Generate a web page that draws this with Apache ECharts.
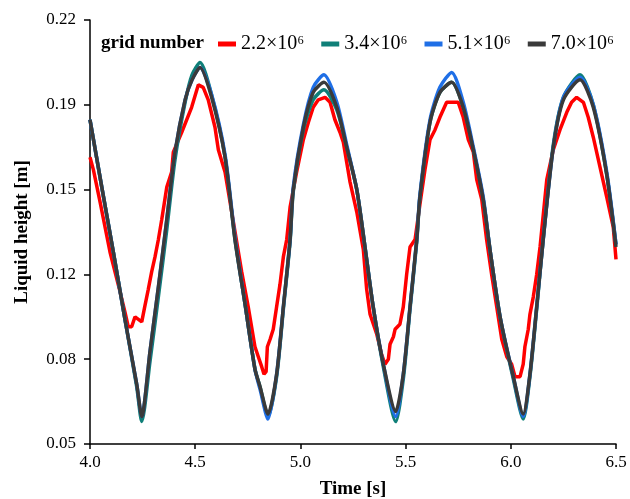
<!DOCTYPE html>
<html>
<head>
<meta charset="utf-8">
<script src="https://cdn.jsdelivr.net/npm/echarts@6/dist/echarts.min.js"></script>
<style>
html,body{margin:0;padding:0;background:#fff;}
#chart{width:630px;height:499px;}
</style>
</head>
<body>
<div id="chart"></div>
<script>
// Shared time grid for the 3.4, 5.1 and 7.0 million-cell curves
var timeFine = [4.000,4.056,4.111,4.166,4.222,4.246,4.285,4.325,4.365,4.404,4.452,4.485,4.523,4.578,4.642,4.689,4.737,4.784,4.808,4.846,4.887,4.919,4.951,4.966,5.014,5.061,5.112,5.173,5.220,5.268,5.307,5.346,5.394,5.453,5.489,5.521,5.553,5.568,5.616,5.663,5.719,5.774,5.822,5.869,5.901,5.949,6.012,6.059,6.091,6.123,6.154,6.202,6.250,6.329,6.392,6.456,6.500];
var height70 = [0.180,0.153,0.127,0.100,0.074,0.061,0.087,0.113,0.140,0.167,0.188,0.196,0.201,0.189,0.165,0.132,0.106,0.080,0.073,0.062,0.078,0.105,0.132,0.152,0.177,0.191,0.195,0.185,0.169,0.152,0.129,0.105,0.082,0.063,0.078,0.105,0.132,0.149,0.179,0.191,0.195,0.185,0.168,0.148,0.128,0.101,0.077,0.062,0.078,0.105,0.132,0.169,0.188,0.196,0.185,0.158,0.129];
var height34 = [0.180,0.153,0.127,0.100,0.073,0.059,0.083,0.109,0.136,0.164,0.187,0.198,0.203,0.190,0.165,0.132,0.106,0.080,0.073,0.061,0.077,0.104,0.131,0.151,0.176,0.188,0.192,0.184,0.169,0.152,0.129,0.105,0.081,0.059,0.076,0.104,0.131,0.149,0.179,0.191,0.195,0.185,0.168,0.148,0.128,0.101,0.076,0.060,0.077,0.104,0.132,0.170,0.189,0.198,0.186,0.158,0.130];
var height51 = [0.180,0.153,0.127,0.100,0.074,0.061,0.087,0.113,0.140,0.167,0.188,0.196,0.201,0.190,0.166,0.133,0.106,0.080,0.072,0.060,0.078,0.105,0.132,0.153,0.178,0.193,0.198,0.187,0.170,0.152,0.129,0.105,0.082,0.061,0.078,0.105,0.132,0.150,0.180,0.193,0.199,0.187,0.169,0.149,0.128,0.101,0.077,0.061,0.078,0.105,0.132,0.169,0.189,0.197,0.186,0.159,0.130];
// Coarse-grid (2.2 million cells) curve
var time22 = [4.000,4.016,4.048,4.095,4.143,4.166,4.182,4.198,4.214,4.246,4.260,4.277,4.293,4.309,4.325,4.341,4.365,4.388,4.396,4.436,4.483,4.515,4.538,4.562,4.594,4.610,4.642,4.721,4.752,4.784,4.800,4.816,4.827,4.837,4.843,4.856,4.871,4.887,4.903,4.919,4.935,4.951,4.982,5.014,5.038,5.061,5.085,5.117,5.141,5.164,5.188,5.204,5.220,5.236,5.268,5.299,5.315,5.331,5.363,5.386,5.402,5.418,5.426,5.442,5.450,5.473,5.489,5.505,5.521,5.545,5.568,5.592,5.616,5.640,5.663,5.695,5.750,5.774,5.798,5.822,5.838,5.862,5.885,5.909,5.933,5.957,5.981,6.004,6.020,6.044,6.059,6.067,6.083,6.091,6.107,6.123,6.139,6.171,6.202,6.234,6.266,6.289,6.313,6.345,6.368,6.392,6.424,6.456,6.487,6.500];
var height22 = [0.165,0.160,0.147,0.127,0.111,0.103,0.097,0.097,0.101,0.099,0.105,0.112,0.119,0.125,0.132,0.140,0.153,0.159,0.167,0.175,0.185,0.194,0.193,0.188,0.177,0.168,0.159,0.119,0.105,0.089,0.085,0.081,0.078,0.079,0.089,0.092,0.096,0.105,0.114,0.125,0.132,0.145,0.159,0.172,0.179,0.185,0.188,0.189,0.187,0.180,0.175,0.171,0.163,0.155,0.143,0.128,0.112,0.102,0.094,0.086,0.082,0.084,0.090,0.093,0.096,0.098,0.105,0.118,0.129,0.132,0.146,0.160,0.172,0.176,0.181,0.187,0.187,0.181,0.172,0.167,0.156,0.148,0.132,0.118,0.105,0.092,0.085,0.082,0.077,0.077,0.082,0.089,0.096,0.102,0.109,0.118,0.129,0.156,0.168,0.176,0.183,0.187,0.189,0.187,0.181,0.173,0.161,0.149,0.137,0.124];

var seriesNames = ['2.2×10⁶','3.4×10⁶','5.1×10⁶','7.0×10⁶'];
var yTicks = [0.05,0.084,0.118,0.152,0.186,0.22];
var xTicks = [4.0,4.5,5.0,5.5,6.0,6.5];

function pairs(t, y){ return t.map(function(v,i){ return [v, y[i]]; }); }

var serif = 'Liberation Serif';
var chart = echarts.init(document.getElementById('chart'), null, {renderer:'canvas'});
var option = {
  animation: false,
  backgroundColor: '#fff',
  title: {
    text: 'grid number', left: 96, top: 29,
    textStyle: {fontFamily: serif, fontWeight: 'bold', fontSize: 19, color: '#000'}
  },
  legend: {
    left: 213, top: 29, icon: 'rect', itemWidth: 18, itemHeight: 5, itemGap: 17,
    data: seriesNames,
    textStyle: {fontFamily: serif, fontSize: 20, color: '#000'}
  },
  grid: {left: 90, right: 14, top: 20, bottom: 55, containLabel: false, outerBoundsMode: 'none'},
  xAxis: {
    type: 'value', min: 4, max: 6.5, interval: 0.5,
    name: 'Time [s]', nameLocation: 'middle', nameGap: 36,
    nameTextStyle: {fontFamily: serif, fontWeight: 'bold', fontSize: 19, color: '#000'},
    axisLine: {show: true, lineStyle: {color: '#000', width: 1.5}},
    axisTick: {show: true, length: 5, lineStyle: {color: '#000', width: 1.5}},
    axisLabel: {margin: 10, fontFamily: serif, fontSize: 17, color: '#000',
      formatter: function(v){ return v.toFixed(1); }},
    splitLine: {show: false}
  },
  yAxis: {
    type: 'value', min: 0.05, max: 0.22,
    name: 'Liquid height [m]', nameLocation: 'middle', nameGap: 58,
    nameTextStyle: {fontFamily: serif, fontWeight: 'bold', fontSize: 19, color: '#000'},
    axisLine: {show: true, lineStyle: {color: '#000', width: 1.5}},
    axisTick: {show: true, length: 6, customValues: yTicks, lineStyle: {color: '#000', width: 1.5}},
    axisLabel: {margin: 14, fontFamily: serif, fontSize: 17, color: '#000', customValues: yTicks,
      formatter: function(v){ return v.toFixed(2); }},
    splitLine: {show: false}
  },
  series: [
    {name: seriesNames[0], type: 'line', data: pairs(time22, height22), showSymbol: false, smooth: false,
     lineStyle: {color: '#ff0000', width: 3.5}, itemStyle: {color: '#ff0000'}},
    {name: seriesNames[1], type: 'line', data: pairs(timeFine, height34), showSymbol: false, smooth: 0.25,
     lineStyle: {color: '#0f7f78', width: 3.5}, itemStyle: {color: '#0f7f78'}},
    {name: seriesNames[2], type: 'line', data: pairs(timeFine, height51), showSymbol: false, smooth: 0.25,
     lineStyle: {color: '#1f6fe6', width: 3.5}, itemStyle: {color: '#1f6fe6'}},
    {name: seriesNames[3], type: 'line', data: pairs(timeFine, height70), showSymbol: false, smooth: 0.25,
     lineStyle: {color: '#3a3a3a', width: 3.5}, itemStyle: {color: '#3a3a3a'}}
  ]
};
chart.setOption(option);
</script>
</body>
</html>
